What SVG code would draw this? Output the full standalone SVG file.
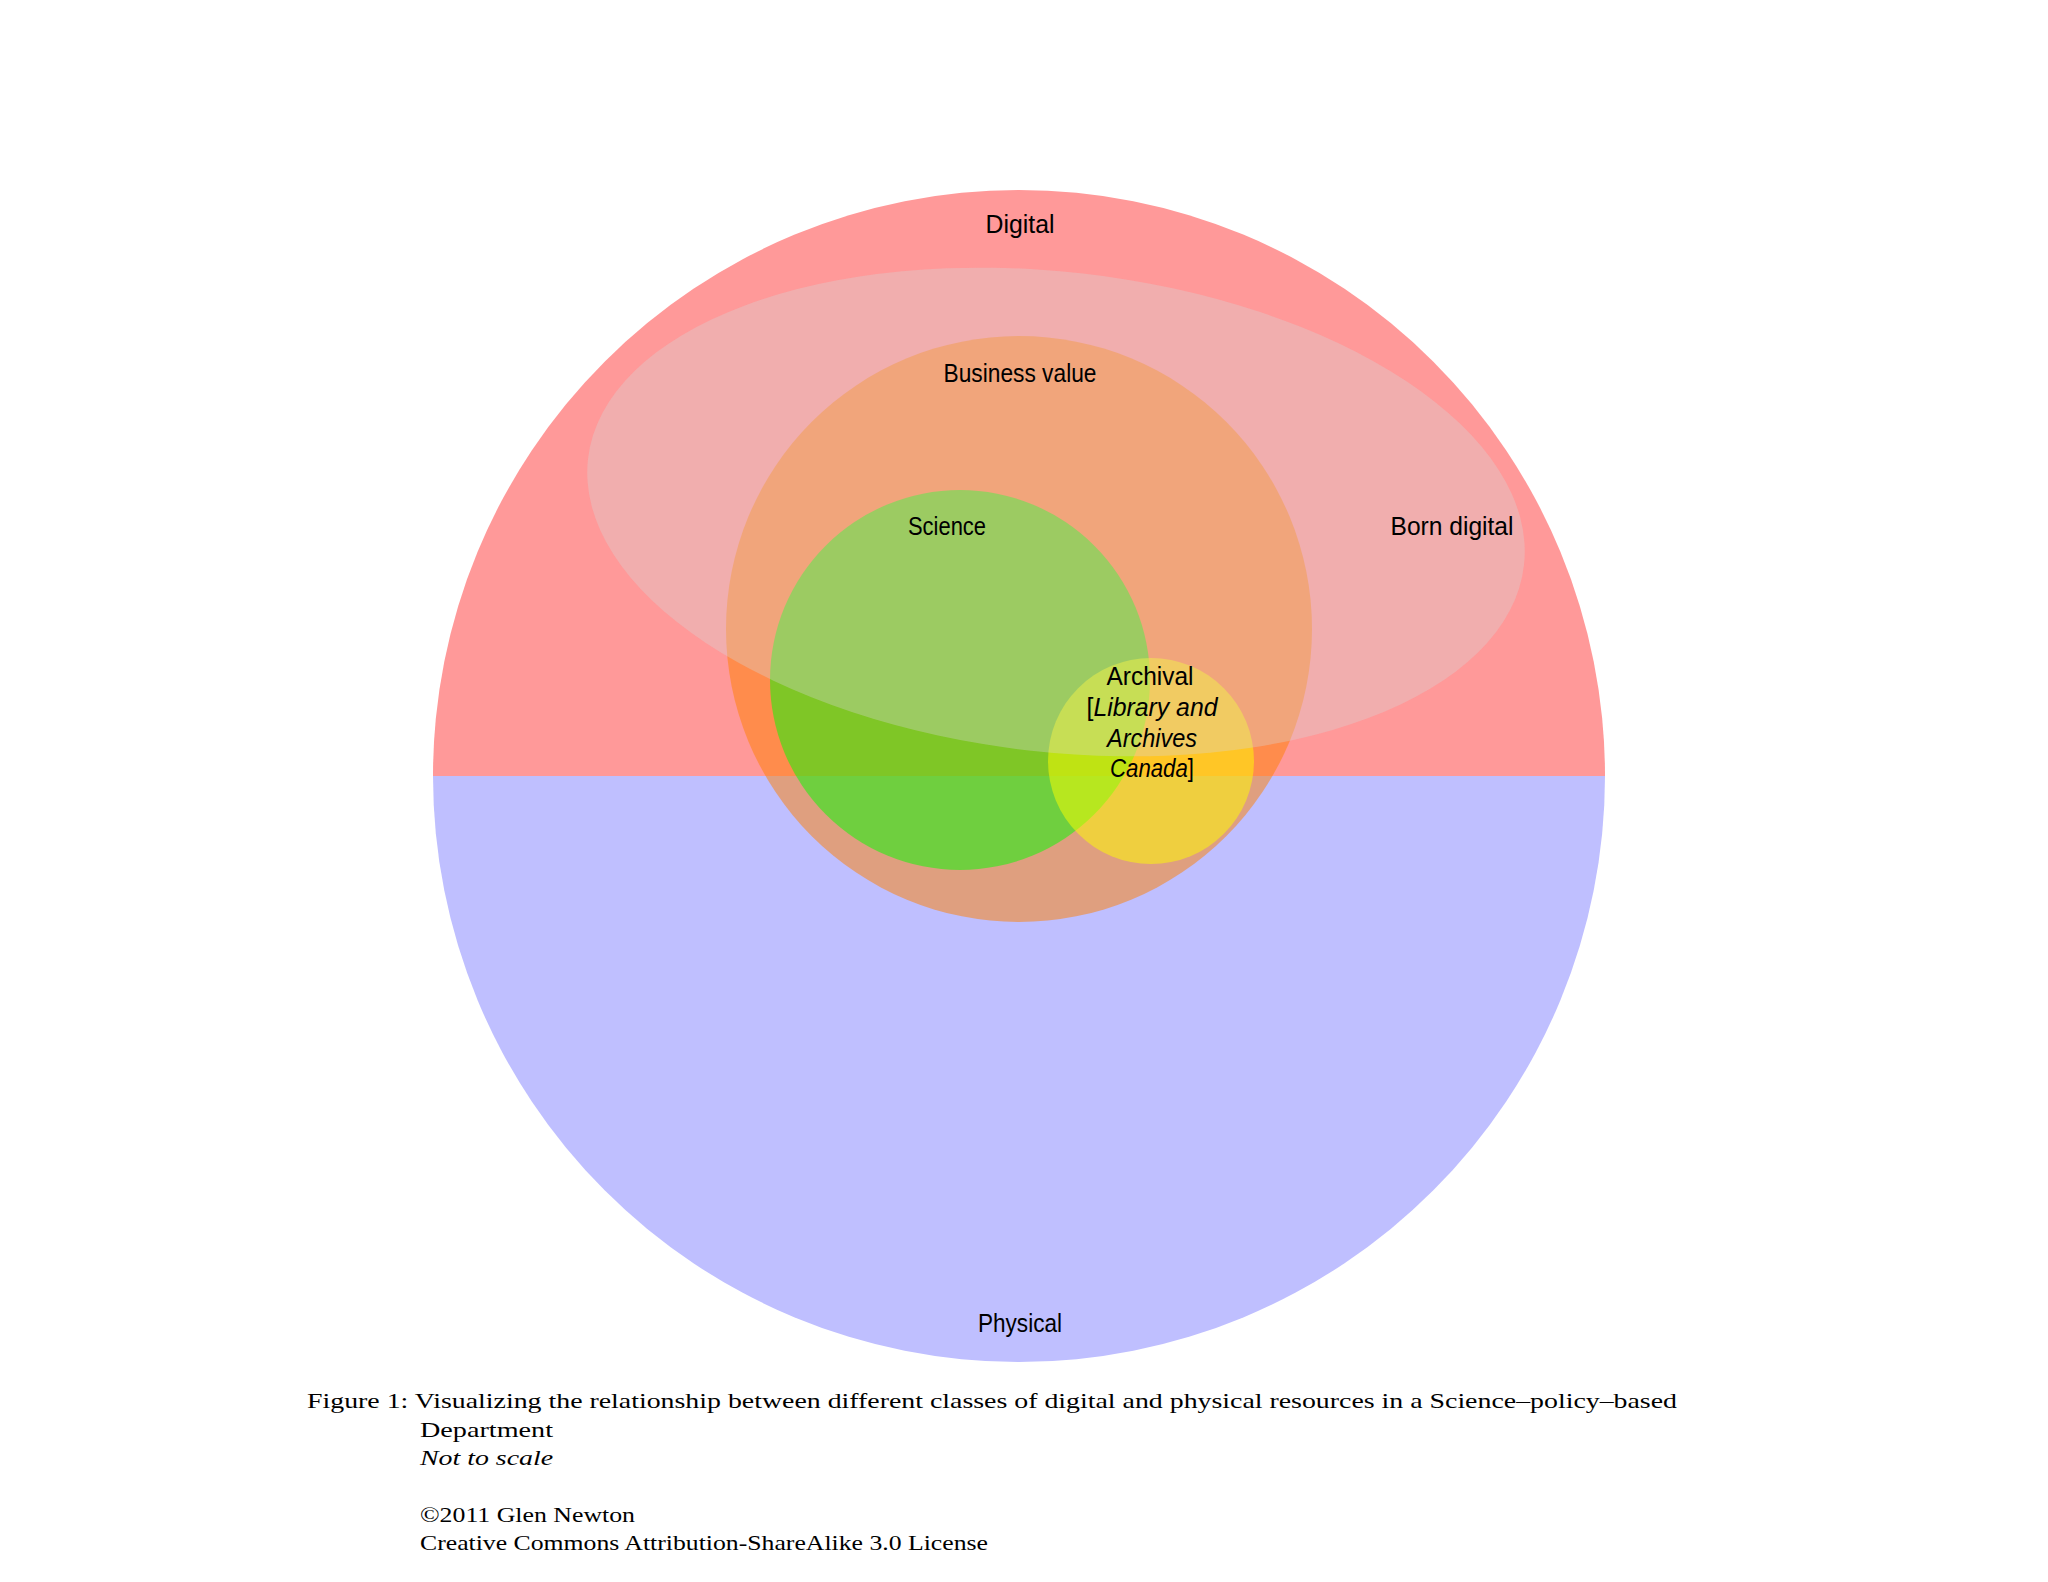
<svg xmlns="http://www.w3.org/2000/svg" width="2048" height="1582" viewBox="0 0 2048 1582">
<style>
.lbl{font-family:"Liberation Sans","Noto Sans",sans-serif;font-size:25.5px;fill:#000;text-anchor:middle}
.it{font-style:italic}
.cap{font-family:"Liberation Serif","DejaVu Serif",serif;font-size:22px;fill:#000}
</style>
<rect x="0" y="0" width="2048" height="1582" fill="#fff"/>
<g id="digital">
<path d="M 433 776 A 586 586 0 0 1 1605 776 Z" fill="#ff9999"/>
</g>
<g id="physical">
<path d="M 433 776 A 586 586 0 0 0 1605 776 Z" fill="#bfbfff"/>
</g>
<g id="business-value">
<circle cx="1019" cy="629" r="293" fill="#ff8000" fill-opacity="0.5"/>
</g>
<g id="science">
<circle cx="960" cy="680" r="190" fill="#00ff00" fill-opacity="0.5"/>
</g>
<g id="archival">
<circle cx="1151" cy="761" r="103" fill="#ffff00" fill-opacity="0.5"/>
</g>
<g id="born-digital">
<ellipse cx="0" cy="0" rx="471" ry="240" transform="translate(1056 512) rotate(6.5)" fill="#d6d6d6" fill-opacity="0.34"/>
</g>
<g id="connectors"/>
<g id="labels">
<text class="lbl" x="1020" y="233" textLength="69" lengthAdjust="spacingAndGlyphs">Digital</text>
<text class="lbl" x="1020" y="382" textLength="153" lengthAdjust="spacingAndGlyphs">Business value</text>
<text class="lbl" x="947" y="535" textLength="78" lengthAdjust="spacingAndGlyphs">Science</text>
<text class="lbl" x="1452" y="535" textLength="123" lengthAdjust="spacingAndGlyphs">Born digital</text>
<text class="lbl" x="1150" y="685" textLength="87" lengthAdjust="spacingAndGlyphs">Archival</text>
<text class="lbl" x="1152" y="716" textLength="131" lengthAdjust="spacingAndGlyphs">[<tspan class="it">Library and</tspan></text>
<text class="lbl it" x="1152" y="747" textLength="90" lengthAdjust="spacingAndGlyphs">Archives</text>
<text class="lbl" x="1152" y="777" textLength="84" lengthAdjust="spacingAndGlyphs"><tspan class="it">Canada</tspan>]</text>
<text class="lbl" x="1020" y="1332" textLength="84" lengthAdjust="spacingAndGlyphs">Physical</text>
</g>
<g id="caption">
<text class="cap" x="307" y="1408" textLength="1370" lengthAdjust="spacingAndGlyphs">Figure 1: Visualizing the relationship between different classes of digital and physical resources in a Science–policy–based</text>
<text class="cap" x="420" y="1437" textLength="133" lengthAdjust="spacingAndGlyphs">Department</text>
<text class="cap" x="420" y="1465" font-style="italic" textLength="133" lengthAdjust="spacingAndGlyphs">Not to scale</text>
<text class="cap" x="420" y="1522" textLength="215" lengthAdjust="spacingAndGlyphs">©2011 Glen Newton</text>
<text class="cap" x="420" y="1550" textLength="568" lengthAdjust="spacingAndGlyphs">Creative Commons Attribution-ShareAlike 3.0 License</text>
</g>
</svg>
